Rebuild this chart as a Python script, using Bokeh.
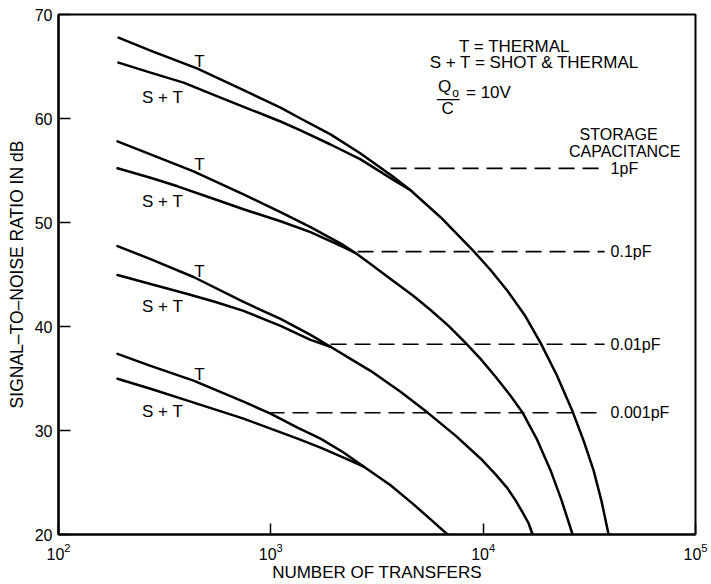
import numpy as np
from bokeh.plotting import figure
from bokeh.models import FixedTicker, Range1d
from bokeh.core.properties import value
from bokeh.embed import file_html
from bokeh.resources import INLINE

# ---- data (x = number of transfers, y = S/N in dB) ----
t_1pf_x = [191.7, 271.3, 451.6, 802.4, 1111, 1380, 1911, 2646, 3743, 4550, 6300, 9012,
           10836, 13028, 15668, 18636, 22170, 26375, 29714, 33115, 36118, 38963]
t_1pf_y = [67.77, 66.52, 64.79, 62.41, 61.05, 60.00, 58.47, 56.64, 54.44, 53.10, 50.51, 47.25,
           45.43, 43.41, 41.11, 38.43, 35.36, 31.82, 29.03, 26.16, 23.18, 20.00]
st_1pf_x = [191.7, 271.3, 388.0, 579.6, 802.4, 1111, 1380, 1911, 2646, 3743, 4550]
st_1pf_y = [65.37, 64.41, 63.45, 62.01, 60.86, 59.71, 58.85, 57.50, 56.07, 54.15, 53.10]

t_01pf_x = [189.6, 271.3, 432.4, 743.7, 1111, 1538, 2200, 2506, 2949, 3664, 4700, 5653, 6873,
            8262, 9721, 11440, 13458, 15334, 17847, 20775, 23407, 26375]
t_01pf_y = [57.80, 56.55, 54.92, 52.71, 50.99, 49.55, 47.82, 47.06, 46.00, 44.56, 42.93, 41.59,
            40.06, 38.43, 36.89, 35.17, 33.35, 31.72, 29.22, 26.16, 23.28, 20.00]
st_01pf_x = [189.6, 271.3, 363.5, 520.0, 743.7, 1111, 1538, 2200, 2506]
st_01pf_y = [55.21, 54.30, 53.48, 52.38, 51.27, 50.12, 49.07, 47.63, 47.06]

t_001pf_x = [189.6, 271.3, 432.4, 743.7, 1111, 1538, 1911, 2373, 2949, 4082, 5471, 7413, 9721,
             11440, 13028, 14213, 15334, 16362, 17088]
t_001pf_y = [47.73, 46.48, 44.76, 42.36, 40.73, 39.19, 38.05, 36.89, 35.74, 33.73, 31.72, 29.51,
             27.31, 25.78, 24.44, 23.28, 22.12, 21.08, 20.00]
st_001pf_x = [189.6, 271.3, 405.3, 548.9, 743.7, 1111, 1538, 1911]
st_001pf_y = [44.95, 44.08, 43.13, 42.36, 41.50, 40.06, 38.71, 38.05]

t_0001pf_x = [189.6, 271.3, 432.4, 743.7, 996.8, 1336, 1714, 2200, 2733, 3664, 4700, 5653, 6797]
t_0001pf_y = [37.37, 36.22, 34.79, 32.77, 31.62, 30.28, 29.22, 27.88, 26.54, 24.73, 22.90, 21.45, 20.00]
st_0001pf_x = [189.6, 271.3, 405.3, 548.9, 743.7, 996.8, 1336, 1714, 2200, 2733]
st_0001pf_y = [34.98, 34.02, 32.87, 32.01, 31.14, 30.18, 29.22, 28.36, 27.40, 26.54]

cap_labels = ["1pF", "0.1pF", "0.01pF", "0.001pF"]
cap_level_y = [55.2, 47.2, 38.3, 31.7]
cap_dash_start = [3664, 2561, 1911, 975]
cap_dash_end = [37300, 37300, 37300, 37300]

x_ticks = [100, 1000, 10000, 100000]
y_ticks = [20, 30, 40, 50, 60, 70]

FONT = "Liberation Sans"

p = figure(width=711, height=584, x_axis_type="log",
           x_range=Range1d(100, 100000), y_range=Range1d(20, 70),
           output_backend="svg", toolbar_location=None,
           min_border_left=58, min_border_right=16,
           min_border_top=14, min_border_bottom=48)
p.xgrid.grid_line_color = None
p.ygrid.grid_line_color = None
p.background_fill_color = "white"
p.border_fill_color = "white"
p.outline_line_color = "black"
p.outline_line_width = 2

p.xaxis.ticker = FixedTicker(ticks=x_ticks)
p.yaxis.ticker = FixedTicker(ticks=y_ticks)
for ax in (p.xaxis, p.yaxis):
    ax.axis_line_color = "black"
    ax.axis_line_width = 2.2
    ax.major_tick_out = 0
    ax.major_tick_line_color = "black"
    ax.major_tick_line_width = 1.5
    ax.minor_tick_line_color = None
    ax.major_label_text_font = FONT
    ax.major_label_text_font_size = "16px"
    ax.major_label_text_color = "black"
    ax.axis_label_text_font = FONT
    ax.axis_label_text_font_style = "normal"
    ax.axis_label_text_color = "black"
p.xaxis.major_tick_in = 11
p.yaxis.major_tick_in = 12
p.xaxis.major_label_standoff = 8
p.yaxis.major_label_standoff = 6
p.xaxis.axis_label = "NUMBER OF TRANSFERS"
p.xaxis.axis_label_text_font_size = "17px"
p.xaxis.axis_label_standoff = 0
p.yaxis.axis_label = "SIGNAL–TO–NOISE RATIO IN dB"
p.yaxis.axis_label_text_font_size = "17.5px"
p.yaxis.axis_label_standoff = 5

# curves
for xs, ys in [(t_1pf_x, t_1pf_y), (st_1pf_x, st_1pf_y),
               (t_01pf_x, t_01pf_y), (st_01pf_x, st_01pf_y),
               (t_001pf_x, t_001pf_y), (st_001pf_x, st_001pf_y),
               (t_0001pf_x, t_0001pf_y), (st_0001pf_x, st_0001pf_y)]:
    p.line(xs, ys, line_color="black", line_width=2.5, line_join="round", line_cap="round")

# dashed capacitance levels
p.segment(x0=cap_dash_start, y0=cap_level_y, x1=cap_dash_end, y1=cap_level_y,
          line_color="black", line_width=1.6, line_dash="16 8")
p.text(x=[39820] * 4, y=cap_level_y, text=cap_labels, text_font=value(FONT),
       text_font_size="16px", text_align="left", text_baseline="middle", text_color="black")

# curve labels
p.text(x=[461] * 4, y=[65.49, 55.59, 45.33, 35.36], text=["T"] * 4, text_font=value(FONT),
       text_font_size="17px", text_align="center", text_baseline="middle", text_color="black")
p.text(x=[309] * 4, y=[62.01, 52.04, 41.88, 31.81], text=["S + T"] * 4, text_font=value(FONT),
       text_font_size="17px", text_align="center", text_baseline="middle", text_color="black")

# key
p.text(x=[7700, 5600], y=[66.9, 65.37], text=["T = THERMAL", "S + T = SHOT & THERMAL"],
       text_font=value(FONT), text_font_size="17px", text_align="left",
       text_baseline="middle", text_color="black")
p.text(x=[6580], y=[63.07], text=["Q"], text_font=value(FONT), text_font_size="17px",
       text_align="center", text_baseline="middle", text_color="black")
p.text(x=[7150], y=[62.49], text=["o"], text_font=value(FONT), text_font_size="12px",
       text_align="left", text_baseline="middle", text_color="black")
p.segment(x0=[6050], y0=[61.82], x1=[7750], y1=[61.82], line_color="black", line_width=1.3)
p.text(x=[6797], y=[60.96], text=["C"], text_font=value(FONT), text_font_size="17px",
       text_align="center", text_baseline="middle", text_color="black")
p.text(x=[8300], y=[62.49], text=["= 10V"], text_font=value(FONT), text_font_size="17px",
       text_align="left", text_baseline="middle", text_color="black")
p.text(x=[43430, 46370], y=[58.47, 56.84], text=["STORAGE", "CAPACITANCE"],
       text_font=value(FONT), text_font_size="16px", text_align="center",
       text_baseline="middle", text_color="black")

open("out.html", "w").write(file_html(p, INLINE))
